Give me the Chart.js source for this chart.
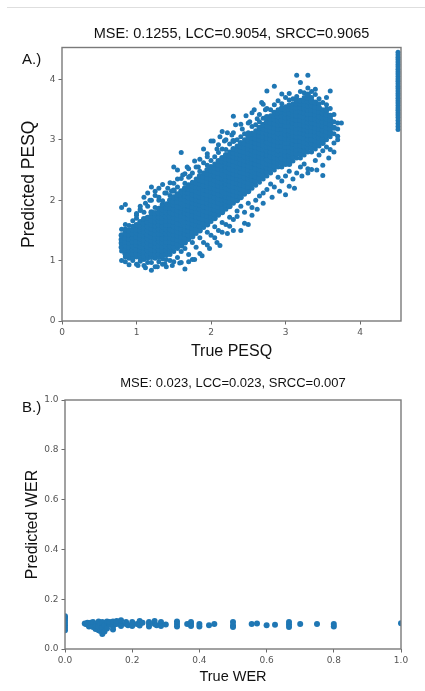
<!DOCTYPE html>
<html>
<head>
<meta charset="utf-8">
<script src="https://cdn.jsdelivr.net/npm/chart.js@4.4.1/dist/chart.umd.min.js"></script>
<style>
  body { margin: 0; background: #fff; }
  #page { position: relative; width: 425px; height: 691px; overflow: hidden; }
  .rule { position: absolute; left: 7px; right: 0; top: 7px; height: 1px; background: #dedede; }
  .panel { position: absolute; left: 22px; font: 15px "Liberation Sans", Arial, sans-serif; line-height: 15px; color: #111; }
  canvas { position: absolute; left: 0; }
</style>
</head>
<body>
<div id="page">
  <div class="rule"></div>
  <canvas id="pesqChart" width="425" height="365" style="top:0"></canvas>
  <canvas id="werChart" width="425" height="326" style="top:365px"></canvas>
  <div class="panel" style="top:51px">A.)</div>
  <div class="panel" style="top:399px">B.)</div>
</div>
<script>
// --- A.) PESQ scatter (x step 0.05)
const pesqX = [0.80, 0.85, 0.90, 0.95, 1.00, 1.05, 1.10, 1.15, 1.20, 1.25, 1.30, 1.35, 1.40, 1.45, 1.50,
  1.55, 1.60, 1.65, 1.70, 1.75, 1.80, 1.85, 1.90, 1.95, 2.00, 2.05, 2.10, 2.15, 2.20, 2.25, 2.30,
  2.35, 2.40, 2.45, 2.50, 2.55, 2.60, 2.65, 2.70, 2.75, 2.80, 2.85, 2.90, 2.95, 3.00, 3.05, 3.10,
  3.15, 3.20, 3.25, 3.30, 3.35, 3.40, 3.45, 3.50, 3.55, 3.60, 3.65, 3.70, 3.75];
const pesqY = [
  [1.0, 1.16, 1.22, 1.29, 1.35, 1.42, 1.52, 1.88],
  [0.98, 1.06, 1.12, 1.18, 1.25, 1.31, 1.38, 1.45, 1.51, 1.6, 1.93],
  [0.93, 1.04, 1.1, 1.17, 1.23, 1.3, 1.36, 1.43, 1.5, 1.58, 1.84],
  [1.0, 1.05, 1.11, 1.18, 1.24, 1.31, 1.38, 1.44, 1.51, 1.57, 1.66],
  [0.94, 1.06, 1.12, 1.19, 1.26, 1.32, 1.39, 1.46, 1.52, 1.59, 1.7, 1.78],
  [0.99, 1.04, 1.1, 1.17, 1.24, 1.3, 1.37, 1.43, 1.5, 1.57, 1.64, 1.83, 1.9],
  [0.92, 1.02, 1.08, 1.15, 1.22, 1.28, 1.35, 1.42, 1.48, 1.55, 1.62, 1.69, 1.8, 2.05],
  [0.97, 1.04, 1.1, 1.17, 1.23, 1.3, 1.37, 1.43, 1.5, 1.57, 1.64, 1.71, 1.9, 2.12],
  [0.84, 0.97, 1.06, 1.12, 1.19, 1.26, 1.33, 1.4, 1.46, 1.53, 1.6, 1.67, 1.74, 1.8, 2.0, 2.22],
  [0.9, 1.04, 1.1, 1.17, 1.24, 1.3, 1.37, 1.44, 1.51, 1.58, 1.65, 1.72, 1.79, 1.88, 2.15],
  [0.98, 1.05, 1.11, 1.18, 1.25, 1.32, 1.38, 1.45, 1.52, 1.59, 1.66, 1.72, 1.79, 1.86, 2.05, 2.2],
  [0.94, 1.03, 1.09, 1.16, 1.23, 1.3, 1.37, 1.44, 1.5, 1.57, 1.64, 1.71, 1.78, 1.85, 1.92, 1.99, 2.26],
  [0.9, 1.02, 1.1, 1.17, 1.24, 1.31, 1.38, 1.45, 1.52, 1.59, 1.66, 1.73, 1.8, 1.87, 1.94, 2.12],
  [1.0, 1.1, 1.17, 1.24, 1.31, 1.38, 1.45, 1.52, 1.59, 1.66, 1.73, 1.8, 1.87, 1.94, 2.0, 2.08, 2.29],
  [0.98, 1.15, 1.22, 1.29, 1.36, 1.43, 1.5, 1.57, 1.64, 1.71, 1.78, 1.85, 1.92, 1.98, 2.05, 2.16, 2.28, 2.55],
  [1.05, 1.2, 1.27, 1.34, 1.41, 1.48, 1.55, 1.62, 1.69, 1.76, 1.83, 1.9, 1.97, 2.04, 2.1, 2.22, 2.5],
  [0.97, 1.15, 1.25, 1.32, 1.39, 1.46, 1.53, 1.6, 1.67, 1.74, 1.81, 1.88, 1.95, 2.02, 2.09, 2.15, 2.36, 2.79],
  [0.86, 1.2, 1.3, 1.37, 1.44, 1.51, 1.58, 1.65, 1.72, 1.79, 1.86, 1.93, 2.0, 2.07, 2.14, 2.2, 2.28, 2.44],
  [1.1, 1.35, 1.42, 1.49, 1.56, 1.63, 1.7, 1.77, 1.84, 1.91, 1.98, 2.05, 2.12, 2.19, 2.25, 2.38, 2.52],
  [1.02, 1.3, 1.4, 1.47, 1.54, 1.61, 1.68, 1.75, 1.82, 1.89, 1.96, 2.03, 2.1, 2.17, 2.24, 2.3, 2.45],
  [1.22, 1.45, 1.52, 1.59, 1.66, 1.73, 1.8, 1.87, 1.94, 2.01, 2.08, 2.15, 2.22, 2.29, 2.35, 2.55],
  [1.12, 1.38, 1.5, 1.57, 1.64, 1.71, 1.78, 1.85, 1.92, 1.99, 2.06, 2.13, 2.2, 2.27, 2.34, 2.4, 2.48, 2.68],
  [1.3, 1.55, 1.62, 1.69, 1.76, 1.83, 1.9, 1.97, 2.04, 2.11, 2.18, 2.25, 2.32, 2.39, 2.45, 2.62],
  [1.26, 1.47, 1.6, 1.67, 1.74, 1.81, 1.88, 1.95, 2.02, 2.09, 2.16, 2.23, 2.3, 2.37, 2.44, 2.5, 2.58, 2.77],
  [1.42, 1.65, 1.72, 1.79, 1.86, 1.93, 2.0, 2.07, 2.14, 2.21, 2.28, 2.35, 2.42, 2.49, 2.55, 2.66, 2.98],
  [1.38, 1.56, 1.7, 1.77, 1.84, 1.91, 1.98, 2.05, 2.12, 2.19, 2.26, 2.33, 2.4, 2.47, 2.54, 2.6, 2.72],
  [1.5, 1.75, 1.82, 1.89, 1.96, 2.03, 2.1, 2.17, 2.24, 2.31, 2.38, 2.45, 2.52, 2.59, 2.65, 2.79, 2.92],
  [1.47, 1.63, 1.8, 1.87, 1.94, 2.01, 2.08, 2.15, 2.22, 2.29, 2.36, 2.43, 2.5, 2.57, 2.64, 2.7, 2.85, 3.14],
  [1.6, 1.85, 1.92, 1.99, 2.06, 2.13, 2.2, 2.27, 2.34, 2.41, 2.48, 2.55, 2.62, 2.69, 2.75, 2.84, 3.0],
  [1.57, 1.72, 1.9, 1.97, 2.04, 2.11, 2.18, 2.25, 2.32, 2.39, 2.46, 2.53, 2.6, 2.67, 2.74, 2.8, 2.93],
  [1.68, 1.95, 2.02, 2.09, 2.16, 2.23, 2.3, 2.37, 2.44, 2.51, 2.58, 2.65, 2.72, 2.79, 2.85, 2.98, 3.12, 3.39],
  [1.73, 1.82, 2.0, 2.07, 2.14, 2.21, 2.28, 2.35, 2.42, 2.49, 2.56, 2.63, 2.7, 2.77, 2.84, 2.9, 3.0],
  [1.5, 1.9, 2.05, 2.12, 2.19, 2.26, 2.33, 2.4, 2.47, 2.54, 2.61, 2.68, 2.75, 2.82, 2.89, 2.95, 3.05, 3.26],
  [1.8, 2.1, 2.17, 2.24, 2.31, 2.38, 2.45, 2.52, 2.59, 2.66, 2.73, 2.8, 2.87, 2.94, 3.0, 3.1],
  [1.6, 1.95, 2.15, 2.22, 2.29, 2.36, 2.43, 2.5, 2.57, 2.64, 2.71, 2.78, 2.85, 2.92, 2.99, 3.05, 3.12, 3.28],
  [1.88, 2.2, 2.27, 2.34, 2.41, 2.48, 2.55, 2.62, 2.69, 2.76, 2.83, 2.9, 2.97, 3.04, 3.1, 3.22, 3.45],
  [2.0, 2.25, 2.32, 2.39, 2.46, 2.53, 2.6, 2.67, 2.74, 2.81, 2.88, 2.95, 3.02, 3.09, 3.15, 3.25],
  [2.07, 2.3, 2.37, 2.44, 2.51, 2.58, 2.65, 2.72, 2.79, 2.86, 2.93, 3.0, 3.07, 3.14, 3.2, 3.3, 3.42],
  [2.12, 2.35, 2.42, 2.49, 2.56, 2.63, 2.7, 2.77, 2.84, 2.91, 2.98, 3.05, 3.12, 3.19, 3.25, 3.36, 3.59],
  [2.18, 2.4, 2.47, 2.54, 2.61, 2.68, 2.75, 2.82, 2.89, 2.96, 3.03, 3.1, 3.17, 3.24, 3.3, 3.38, 3.52, 3.81],
  [2.27, 2.45, 2.52, 2.59, 2.66, 2.73, 2.8, 2.87, 2.94, 3.01, 3.08, 3.15, 3.22, 3.29, 3.35, 3.4, 3.5],
  [2.22, 2.5, 2.57, 2.64, 2.71, 2.78, 2.85, 2.92, 2.99, 3.06, 3.13, 3.2, 3.27, 3.34, 3.4, 3.45, 3.58, 3.89],
  [2.38, 2.55, 2.62, 2.69, 2.76, 2.83, 2.9, 2.97, 3.04, 3.11, 3.18, 3.25, 3.32, 3.39, 3.45, 3.5, 3.65],
  [2.32, 2.55, 2.62, 2.69, 2.76, 2.83, 2.9, 2.97, 3.04, 3.11, 3.18, 3.25, 3.32, 3.39, 3.46, 3.52, 3.6, 3.76],
  [2.09, 2.4, 2.6, 2.67, 2.74, 2.81, 2.88, 2.95, 3.02, 3.09, 3.16, 3.23, 3.3, 3.37, 3.44, 3.5, 3.55, 3.7],
  [2.23, 2.48, 2.6, 2.67, 2.74, 2.81, 2.88, 2.95, 3.02, 3.09, 3.16, 3.23, 3.3, 3.37, 3.44, 3.51, 3.57, 3.66, 3.77],
  [2.35, 2.65, 2.72, 2.79, 2.86, 2.93, 3.0, 3.07, 3.14, 3.21, 3.28, 3.35, 3.42, 3.49, 3.55, 3.6, 3.68],
  [2.45, 2.7, 2.77, 2.84, 2.91, 2.98, 3.05, 3.12, 3.19, 3.26, 3.33, 3.4, 3.47, 3.54, 3.6, 3.65, 3.72, 4.07],
  [2.55, 2.7, 2.77, 2.84, 2.91, 2.98, 3.05, 3.12, 3.19, 3.26, 3.33, 3.4, 3.47, 3.54, 3.6, 3.65, 3.8, 3.95],
  [2.6, 2.75, 2.82, 2.89, 2.96, 3.03, 3.1, 3.17, 3.24, 3.31, 3.38, 3.45, 3.52, 3.59, 3.65, 3.7, 3.78],
  [2.52, 2.8, 2.87, 2.94, 3.01, 3.08, 3.15, 3.22, 3.29, 3.36, 3.43, 3.5, 3.57, 3.64, 3.7, 3.75, 3.86, 4.07],
  [2.51, 2.8, 2.87, 2.94, 3.01, 3.08, 3.15, 3.22, 3.29, 3.36, 3.43, 3.5, 3.57, 3.64, 3.7, 3.8],
  [2.66, 2.85, 2.92, 2.99, 3.06, 3.13, 3.2, 3.27, 3.34, 3.41, 3.48, 3.55, 3.62, 3.75, 3.84],
  [2.75, 2.9, 2.97, 3.04, 3.11, 3.18, 3.25, 3.32, 3.39, 3.46, 3.53, 3.6, 3.68],
  [2.41, 2.82, 2.95, 3.02, 3.09, 3.16, 3.23, 3.3, 3.37, 3.44, 3.5, 3.62],
  [2.88, 3.0, 3.07, 3.14, 3.21, 3.28, 3.35, 3.42, 3.5, 3.58, 3.7],
  [2.84, 3.05, 3.12, 3.19, 3.26, 3.33, 3.4, 3.52, 3.81],
  [2.95, 3.1, 3.2, 3.3, 3.42],
  [3.0, 3.06, 3.18, 3.28],
  [3.28]
];
// loose points around the band, read one by one
const pesqLooseX = [1.0, 1.05, 1.12, 1.18, 1.25, 1.3, 1.38, 1.42, 1.47, 1.55, 1.62, 1.68, 1.72, 1.78, 1.83,
  1.9, 1.95, 2.03, 2.08, 2.12, 2.18, 2.22, 2.28, 2.33, 2.42, 2.47, 2.52, 2.58, 2.62, 2.68, 2.73,
  1.02, 1.12, 1.28, 1.38, 1.48, 1.58, 1.7, 1.78, 1.88, 1.98, 2.08, 2.12, 2.22, 2.3, 2.45, 2.55,
  2.62, 2.7, 2.82, 2.92, 3.12, 3.22, 3.3, 3.42, 3.5, 3.58, 3.65];
const pesqLooseY = [1.75, 1.85, 1.95, 2.0, 2.08, 2.0, 2.12, 2.2, 2.15, 2.35, 2.42, 2.55, 2.4, 2.65, 2.55,
  2.85, 2.72, 2.98, 2.85, 3.05, 2.98, 3.12, 3.08, 3.25, 3.18, 3.4, 3.3, 3.5, 3.35, 3.62, 3.5,
  0.92, 0.88, 0.9, 0.95, 0.92, 0.96, 0.98, 1.02, 1.08, 1.2, 1.3, 1.25, 1.45, 1.5, 1.62, 1.75,
  1.85, 1.95, 2.05, 2.15, 2.2, 2.4, 2.45, 2.5, 2.58, 2.7, 2.8];
// the strip of true PESQ = 4.5 at the right edge
const pesqEdgeX = 4.51;
const pesqEdgeY = [4.45, 4.41, 4.37, 4.33, 4.29, 4.25, 4.21, 4.17, 4.13, 4.09, 4.05, 4.01, 3.97, 3.93,
  3.89, 3.85, 3.81, 3.77, 3.73, 3.69, 3.65, 3.61, 3.57, 3.53, 3.49, 3.45, 3.41, 3.37, 3.32, 3.27, 3.22, 3.17];
const pesqTicks = [0, 1, 2, 3, 4];

// --- B.) WER scatter
const werX = [0, 0.0588, 0.0625, 0.0667, 0.0714, 0.0769, 0.0833, 0.0909, 0.1, 0.1053, 0.1111, 0.1176,
  0.125, 0.1333, 0.1429, 0.1538, 0.1667, 0.1818, 0.1875, 0.2, 0.2143, 0.2222, 0.2308, 0.25, 0.2667,
  0.2727, 0.2857, 0.3, 0.3333, 0.3636, 0.375, 0.4, 0.4286, 0.4444, 0.5, 0.5556, 0.5714, 0.6, 0.625,
  0.6667, 0.7, 0.75, 0.8, 1.0];
const werY = [
  [0.075, 0.085, 0.095, 0.105, 0.115, 0.125, 0.132],
  [0.102], [0.1], [0.098, 0.105], [0.1, 0.09], [0.095, 0.105], [0.1, 0.088, 0.108],
  [0.1, 0.08, 0.092], [0.1, 0.075, 0.11, 0.09], [0.072, 0.098], [0.06, 0.1, 0.085, 0.108],
  [0.095, 0.07], [0.1, 0.082, 0.11], [0.098, 0.108], [0.1, 0.09, 0.078, 0.11], [0.1, 0.112],
  [0.1, 0.092, 0.115], [0.1, 0.108], [0.095], [0.1, 0.092, 0.108], [0.1], [0.1, 0.112, 0.094],
  [0.105], [0.1, 0.09, 0.108], [0.1, 0.112], [0.095], [0.1, 0.108, 0.092], [0.098],
  [0.1, 0.09, 0.11], [0.1], [0.1, 0.108, 0.092], [0.1, 0.09], [0.095], [0.1],
  [0.095, 0.108, 0.088], [0.1], [0.102], [0.095], [0.097], [0.098, 0.088, 0.108],
  [0.1], [0.1], [0.1, 0.09], [0.103]
];
const werTicks = [0, 0.2, 0.4, 0.6, 0.8, 1.0];

const BLUE = '#1f77b4';
const SANS = '"Liberation Sans", Arial, sans-serif';
const TICKFONT = { family: '"DejaVu Sans", sans-serif', size: 9 };

// inner points of a column are flagged so they can be drawn a bit fatter and close up the cloud
function toPoints(xs, ys) {
  return xs.flatMap((x, i) => ys[i].map((y, j) => ({ x: x, y: y, inner: j > 1 && j < ys[i].length - 2 })));
}

// matplotlib style box round the plot area
const framePlugin = {
  id: 'frame',
  afterDatasetsDraw(chart) {
    const a = chart.chartArea;
    const ctx = chart.ctx;
    ctx.save();
    ctx.strokeStyle = '#7a7a7a';
    ctx.lineWidth = 1.4;
    ctx.strokeRect(a.left, a.top, a.right - a.left, a.bottom - a.top);
    ctx.restore();
  }
};

function axis(opts) {
  return {
    type: 'linear',
    min: opts.min,
    max: opts.max,
    afterBuildTicks: (scale) => { scale.ticks = opts.ticks.map(v => ({ value: v })); },
    afterFit: opts.fit,
    border: { display: false },
    grid: { drawOnChartArea: false, drawTicks: true, tickLength: 3.5, color: '#6a6a6a', lineWidth: 1 },
    ticks: {
      font: TICKFONT,
      color: '#555',
      padding: 3,
      maxRotation: 0,
      autoSkip: false,
      callback: opts.label
    },
    title: {
      display: true,
      text: opts.title,
      color: '#111',
      font: { family: SANS, size: opts.titleSize },
      padding: opts.titlePad
    }
  };
}

const dot = { backgroundColor: BLUE, pointRadius: 2.5, borderWidth: 0, clip: 0 };

new Chart(document.getElementById('pesqChart'), {
  type: 'scatter',
  data: {
    datasets: [
      { ...dot, data: toPoints(pesqX, pesqY), pointRadius: (c) => (c.raw && c.raw.inner ? 3 : 2.5) },
      { ...dot, data: pesqLooseX.map((x, i) => ({ x: x, y: pesqLooseY[i] })) },
      { ...dot, data: pesqEdgeY.map(y => ({ x: pesqEdgeX, y: y })) }
    ]
  },
  options: {
    responsive: false,
    animation: false,
    devicePixelRatio: 1,
    events: [],
    layout: { padding: { left: 0, right: 24, top: 0, bottom: 0 } },
    plugins: {
      legend: { display: false },
      tooltip: { enabled: false },
      title: {
        display: true,
        fullSize: false,
        text: 'MSE: 0.1255, LCC=0.9054, SRCC=0.9065',
        color: '#111',
        font: { family: SANS, size: 14.5, weight: 'normal', lineHeight: 1.2 },
        padding: { top: 25, bottom: 5.1 }
      }
    },
    scales: {
      x: axis({ min: 0, max: 4.55, ticks: pesqTicks, label: v => String(v), title: 'True PESQ',
        titleSize: 16, titlePad: { top: 0, bottom: 3.4 }, fit: s => { s.height = 44; } }),
      y: axis({ min: 0, max: 4.53, ticks: pesqTicks, label: v => String(v), title: 'Predicted PESQ',
        titleSize: 17.5, titlePad: { top: 18.5, bottom: 0 }, fit: s => { s.width = 62; } })
    }
  },
  plugins: [framePlugin]
});

new Chart(document.getElementById('werChart'), {
  type: 'scatter',
  data: {
    datasets: [
      { ...dot, pointRadius: 3, data: toPoints(werX, werY) }
    ]
  },
  options: {
    responsive: false,
    animation: false,
    devicePixelRatio: 1,
    events: [],
    layout: { padding: { left: 0, right: 24, top: 0, bottom: 0 } },
    plugins: {
      legend: { display: false },
      tooltip: { enabled: false },
      title: {
        display: true,
        fullSize: false,
        text: 'MSE: 0.023, LCC=0.023, SRCC=0.007',
        color: '#111',
        font: { family: SANS, size: 13, weight: 'normal', lineHeight: 1.2 },
        padding: { top: 10.2, bottom: 9.2 }
      }
    },
    scales: {
      x: axis({ min: 0, max: 1, ticks: werTicks, label: v => v.toFixed(1), title: 'True WER',
        titleSize: 14.5, titlePad: { top: 0, bottom: 5.3 }, fit: s => { s.height = 42; } }),
      y: axis({ min: 0, max: 1, ticks: werTicks, label: v => v.toFixed(1), title: 'Predicted WER',
        titleSize: 16, titlePad: { top: 23.4, bottom: 0 }, fit: s => { s.width = 65; } })
    }
  },
  plugins: [framePlugin]
});
</script>
</body>
</html>
